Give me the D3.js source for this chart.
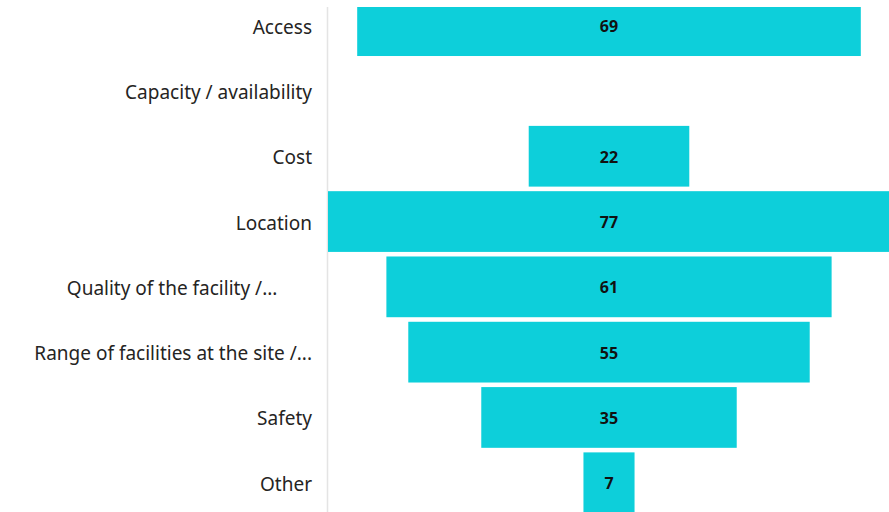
<!DOCTYPE html>
<html>
<head>
<meta charset="utf-8">
<script src="https://cdn.jsdelivr.net/npm/d3@7"></script>
<style>
  html, body { margin: 0; padding: 0; background: #fff; overflow: hidden; }
  svg { display: block; }
  text.cat { white-space: pre; }
</style>
</head>
<body>
<svg id="chart" width="889" height="512"></svg>
<script>
const categories = ["Access", "Capacity / availability", "Cost", "Location", "Quality of the facility /...", "Range of facilities at the site /...", "Safety", "Other"];
const values = [69, null, 22, 77, 61, 55, 35, 7];
// displayed (truncated) axis labels; the truncated Quality label keeps trailing room as in the original
const axisLabels = ["Access", "Capacity / availability", "Cost", "Location", "Quality of the facility /...\u00a0\u00a0\u00a0\u00a0\u00a0\u00a0\u00a0", "Range of facilities at the site /...", "Safety", "Other"];

const W = 889, H = 512;
const svg = d3.select("#chart");
const centerX = 609;
const halfMax = 281;
const plotTop = 7;

const y = d3.scaleBand().domain(categories).range([-7, 515.4]).paddingInner(0.07).paddingOuter(0.035);
const w = d3.scaleLinear().domain([0, d3.max(values)]).range([0, halfMax * 2]);

svg.append("defs").append("clipPath").attr("id", "plotClip")
  .append("rect").attr("x", 327).attr("y", plotTop).attr("width", W - 327).attr("height", H - plotTop);

// axis line
svg.append("line").attr("x1", 327.5).attr("x2", 327.5).attr("y1", plotTop).attr("y2", H)
  .attr("stroke", "#e4e4e4").attr("stroke-width", 1.5);

const data = categories.map((c, i) => ({ c, v: values[i], label: axisLabels[i] }));

const g = svg.append("g").attr("clip-path", "url(#plotClip)");
g.selectAll("rect.bar").data(data.filter(d => d.v != null)).join("rect")
  .attr("class", "bar")
  .attr("x", d => centerX - w(d.v) / 2)
  .attr("y", d => y(d.c))
  .attr("width", d => w(d.v))
  .attr("height", y.bandwidth())
  .attr("fill", "#0dcfda");

g.selectAll("text.val").data(data.filter(d => d.v != null)).join("text")
  .attr("class", "val")
  .attr("x", centerX)
  .attr("y", d => y(d.c) + y.bandwidth() / 2)
  .attr("dy", "0.4em")
  .attr("text-anchor", "middle")
  .attr("font-family", "'Open Sans', 'Noto Sans', sans-serif")
  .attr("font-weight", "bold")
  .attr("font-size", 16)
  .attr("fill", "#111")
  .text(d => d.v);

svg.selectAll("text.cat").data(data).join("text")
  .attr("class", "cat")
  .attr("x", 312)
  .attr("y", d => y(d.c) + y.bandwidth() / 2)
  .attr("dy", "0.42em")
  .attr("text-anchor", "end")
  .attr("font-family", "'Noto Sans', 'Open Sans', sans-serif")
  .attr("font-size", 19)
  .attr("fill", "#252423")
  .text(d => d.label);
</script>
</body>
</html>
